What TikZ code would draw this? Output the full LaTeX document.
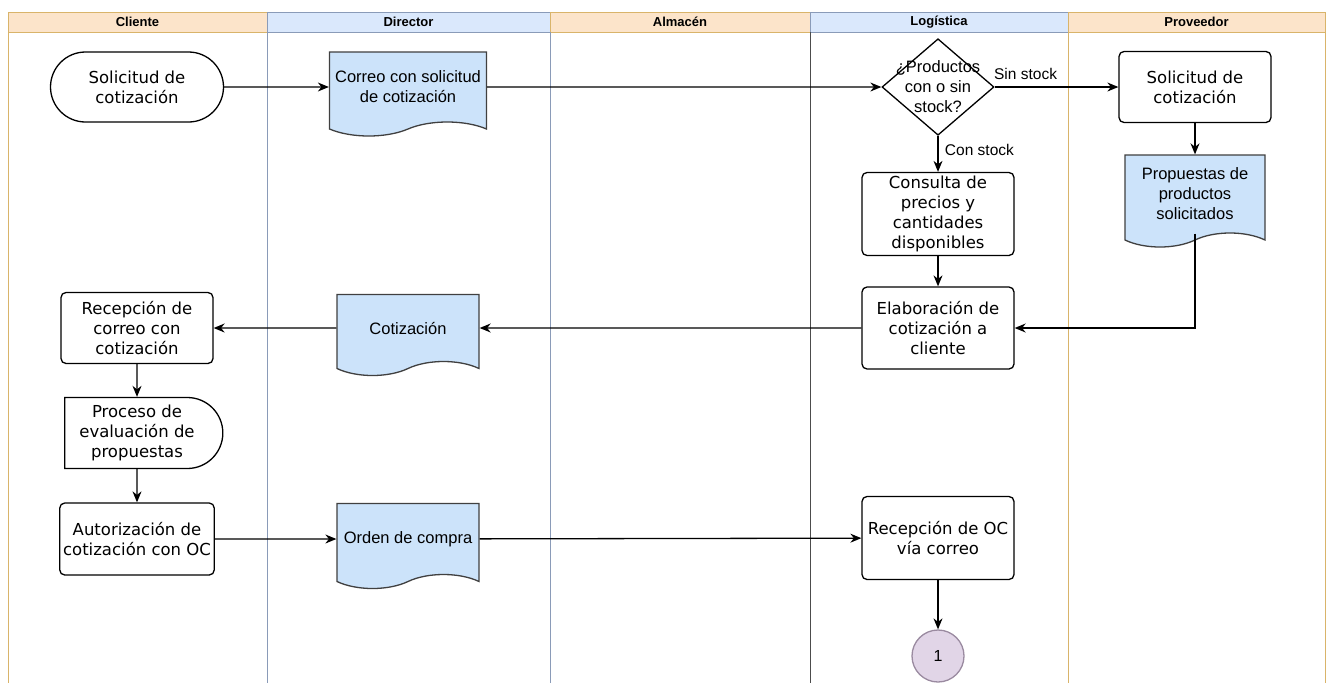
\documentclass[tikz,border=0pt]{standalone}
\usepackage{fontspec}
\setmainfont{DejaVu Sans}
\newfontfamily\arialfont{Liberation Sans}
\usetikzlibrary{shapes.geometric,shapes.misc,shapes.symbols,arrows.meta}
\definecolor{peach}{HTML}{FCE4CA}
\definecolor{peachline}{HTML}{D9B46A}
\definecolor{laneblue}{HTML}{DAE8FC}
\definecolor{blueline}{HTML}{8A9BB8}
\definecolor{docblue}{HTML}{CCE3FA}
\definecolor{lilac}{HTML}{E1D5E7}
\definecolor{lilacline}{HTML}{9A8AA0}
\tikzstyle{arrow} = [line width=1.3pt,->,>={Stealth[length=11pt,width=9pt]}]
\tikzstyle{lanehead} = [draw, line width=0.8pt, minimum height=20pt, inner sep=0pt, font=\arialfont\bfseries\fontsize{13}{15}\selectfont]
\tikzstyle{process} = [draw, line width=1.3pt, rounded corners=5pt, minimum width=152pt, minimum height=71pt, align=center, font=\fontsize{16.5}{20}\selectfont]
\tikzstyle{terminal} = [draw, line width=1.3pt, rounded rectangle, minimum width=153pt, minimum height=70pt, inner xsep=-10pt, align=center, font=\fontsize{16.5}{20}\selectfont]
\tikzstyle{delay} = [draw, line width=1.3pt, rounded rectangle, rounded rectangle left arc=none, minimum width=130pt, minimum height=71pt, inner xsep=-14pt, align=center, font=\fontsize{16.5}{20}\selectfont]
\tikzstyle{decision} = [draw, line width=1.3pt, diamond, minimum width=112pt, minimum height=81pt, inner xsep=-12pt, inner ysep=-8pt, align=center, font=\arialfont\fontsize{16.5}{20}\selectfont]
\tikzstyle{doc} = [draw=black!75, line width=1.3pt, fill=docblue, tape, tape bend top=none, tape bend bottom=in and out, tape bend height=14pt, minimum width=142pt, minimum height=81pt, align=center, font=\arialfont\fontsize{16.5}{20}\selectfont]
\tikzstyle{connector} = [draw=lilacline, line width=1.3pt, fill=lilac, circle, minimum size=52pt, inner sep=0pt, font=\arialfont\fontsize{16}{18}\selectfont]

\begin{document}
\begin{tikzpicture}[x=1pt,y=-1pt]

\useasboundingbox [fill=white] (0,0) rectangle (1327,683);

% lanes
\node (hcli) [lanehead, draw=peachline, fill=peach, minimum width=259pt] at (137.5,22) {Cliente};
\node (hdir) [lanehead, draw=blueline, fill=laneblue, minimum width=283pt] at (408.5,22) {Director};
\node (halm) [lanehead, draw=peachline, fill=peach, minimum width=260pt] at (680,22) {Almacén};
\node (hlog) [lanehead, draw=blueline, fill=laneblue, minimum width=258pt] at (939,22) {Logística};
\node (hprov) [lanehead, draw=peachline, fill=peach, minimum width=257pt] at (1196.5,22) {Proveedor};
\draw [peachline, line width=1pt] (8,32) -- (8,683);
\draw [blueline, line width=1pt] (267,32) -- (267,683);
\draw [blueline, line width=1pt] (550,32) -- (550,683);
\draw [black!70, line width=1pt] (810,32) -- (810,683);
\draw [peachline, line width=1pt] (1068,32) -- (1068,683);
\draw [peachline, line width=1pt] (1325,32) -- (1325,683);

% nodes
\node (sol) [terminal] at (137,87) {Solicitud de\\cotización};
\node (correo) [doc, minimum width=157pt, minimum height=84pt] at (408,87) {Correo con solicitud\\de cotización};
\node (dec) [decision] at (938,87) {¿Productos\\con o sin\\stock?};
\node (provsol) [process] at (1195,87) {Solicitud de\\cotización};
\node (prop) [doc, minimum width=140pt, minimum height=92pt] at (1195,194) {Propuestas de\\productos\\solicitados};
\node (consulta) [process, minimum height=83pt] at (938,214) {Consulta de\\precios y\\cantidades\\disponibles};
\node (elab) [process, minimum height=82pt] at (938,328) {Elaboración de\\cotización a\\cliente};
\node (cotiz) [doc] at (408,328) {Cotización};
\node (recep) [process] at (137,328) {Recepción de\\correo con\\cotización};
\node (proceso) [delay] at (137,433) {Proceso de\\evaluación de\\propuestas};
\node (autor) [process, minimum height=72pt] at (137,539) {Autorización de\\cotización con OC};
\node (orden) [doc, minimum height=85pt] at (408,539) {Orden de compra};
\node (recoc) [process, minimum height=83pt] at (938,538) {Recepción de OC\\vía correo};
\node (uno) [connector] at (938,656) {1};

% connectors
\draw [arrow] (sol) -- (correo);
\draw [arrow] (correo) -- (dec.west);
\draw [arrow] (dec.east) -- node[pos=0.25, above=3pt, font=\arialfont\fontsize{15.5}{18}\selectfont] {Sin stock} (provsol);
\draw [arrow] (dec.south) -- node[pos=0.4, right=3pt, font=\arialfont\fontsize{15.5}{18}\selectfont] {Con stock} (consulta);
\draw [arrow] (provsol) -- (prop);
\draw [arrow] (prop.south) |- (elab.east);
\draw [arrow] (consulta) -- (elab);
\draw [arrow] (elab) -- (cotiz);
\draw [arrow] (cotiz) -- (recep);
\draw [arrow] (recep) -- (proceso);
\draw [arrow] (proceso) -- (autor);
\draw [arrow] (autor) -- (orden);
\draw [arrow] (orden) -- (recoc);
\draw [arrow] (recoc) -- (uno);

\end{tikzpicture}
\end{document}
